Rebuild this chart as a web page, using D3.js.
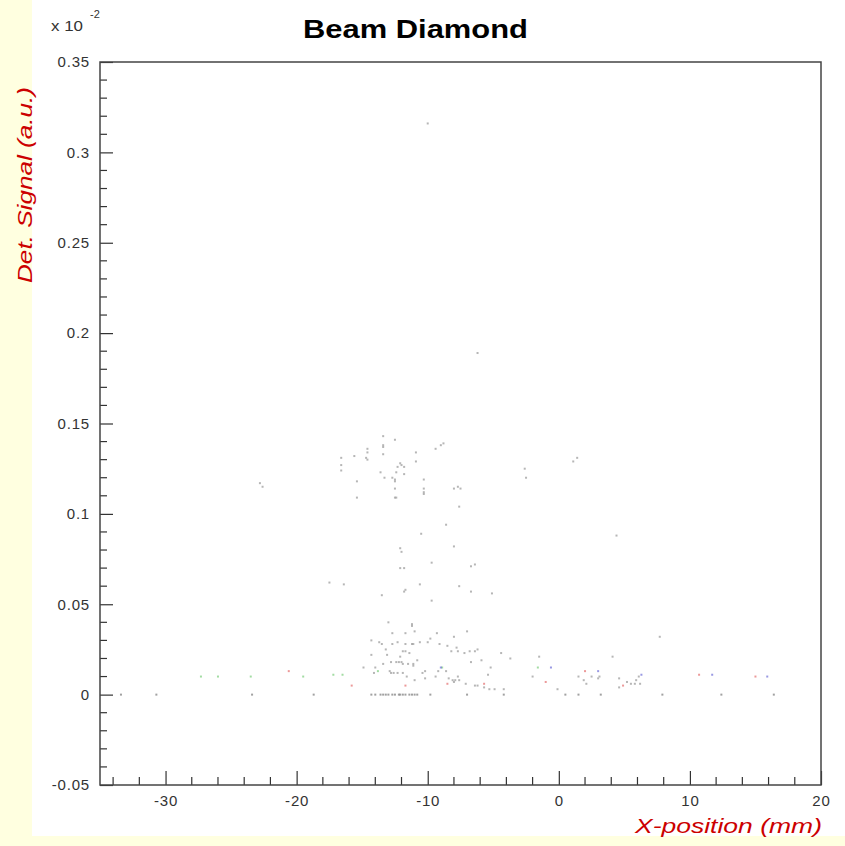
<!DOCTYPE html>
<html>
<head>
<meta charset="utf-8">
<script src="https://cdn.jsdelivr.net/npm/d3@7"></script>
<style>
  html, body { margin: 0; padding: 0; background: #ffffe0; }
  svg { display: block; }
</style>
</head>
<body>
<svg id="chart"></svg>
<script>
        // Axis ticks (values are x 10^-2 on the y axis)
        const xTicks = [-30, -20, -10, 0, 10, 20];
        const xTickLabels = ["-30", "-20", "-10", "0", "10", "20"];
        const yTicks = [-0.05, 0, 0.05, 0.1, 0.15, 0.2, 0.25, 0.3, 0.35];
        const yTickLabels = ["-0.05", "0", "0.05", "0.1", "0.15", "0.2", "0.25", "0.3", "0.35"];

        // Measured points [x mm, signal]
        const grayPoints = [
            [-10.0, 0.316], [-6.2, 0.189],
            [-13.4, 0.143], [-12.5, 0.141], [-13.4, 0.138], [-13.4, 0.137], [-14.6, 0.136], [-14.6, 0.134],
            [-15.6, 0.132], [-16.6, 0.131], [-14.7, 0.131], [-14.6, 0.130], [-13.4, 0.133], [-10.9, 0.134],
            [-9.4, 0.136], [-9.0, 0.138], [-8.8, 0.139], [-10.9, 0.129], [-12.1, 0.128], [-12.0, 0.127],
            [-11.8, 0.126], [-12.3, 0.126], [-16.6, 0.127], [-16.6, 0.124], [-13.6, 0.123], [-12.4, 0.123],
            [-11.8, 0.122], [-12.7, 0.120], [-13.3, 0.120], [-12.5, 0.119], [-12.5, 0.118], [-10.3, 0.119],
            [-15.4, 0.118], [-12.5, 0.114], [-10.3, 0.114], [-10.3, 0.112], [-10.3, 0.111], [-8.0, 0.114],
            [-7.7, 0.115], [-7.5, 0.114], [-15.4, 0.109], [-12.5, 0.109], [-12.4, 0.109], [-7.6, 0.104],
            [-8.6, 0.094], [-10.5, 0.089], [-22.8, 0.117], [-22.6, 0.115], [-2.6, 0.125], [-2.5, 0.120],
            [1.1, 0.129], [1.4, 0.131], [4.4, 0.088],
            [-12.1, 0.081], [-12.0, 0.079], [-8.0, 0.082], [-9.7, 0.073], [-12.1, 0.070], [-11.8, 0.070],
            [-6.7, 0.071], [-6.4, 0.072], [-16.4, 0.061], [-17.5, 0.062], [-10.6, 0.061], [-7.6, 0.060],
            [-11.7, 0.058], [-11.8, 0.057], [-6.7, 0.057], [-5.1, 0.056], [-13.5, 0.055], [-9.7, 0.052],
            [7.7, 0.032],
            [-13.0, 0.040], [-11.2, 0.039], [-11.2, 0.038], [-11.0, 0.035], [-12.7, 0.034], [-11.7, 0.034],
            [-9.3, 0.034], [-8.0, 0.032], [-7.0, 0.035], [-14.3, 0.030], [-13.7, 0.029], [-13.5, 0.028],
            [-12.7, 0.028], [-12.3, 0.029], [-11.7, 0.028], [-11.2, 0.028], [-11.1, 0.028], [-10.6, 0.029],
            [-10.0, 0.029], [-9.8, 0.031], [-9.1, 0.028], [-8.5, 0.027], [-7.8, 0.026], [-8.2, 0.024],
            [-7.7, 0.024], [-7.2, 0.023], [-6.8, 0.024], [-6.2, 0.025], [-6.4, 0.024], [-13.2, 0.025],
            [-11.9, 0.024], [-11.7, 0.024], [-11.4, 0.023], [-14.3, 0.022], [-13.1, 0.022], [-12.1, 0.021],
            [-10.8, 0.019], [-12.8, 0.018], [-12.4, 0.018], [-12.2, 0.018], [-12.0, 0.018], [-11.9, 0.017],
            [-11.5, 0.017], [-11.1, 0.017], [-11.1, 0.016], [-13.4, 0.017], [-14.0, 0.015], [-14.9, 0.015],
            [-10.2, 0.013], [-9.2, 0.013], [-8.6, 0.013], [-14.1, 0.012], [-12.9, 0.013], [-12.8, 0.012],
            [-12.6, 0.012], [-12.3, 0.012], [-11.9, 0.012], [-11.6, 0.010], [-10.4, 0.012], [-9.4, 0.010],
            [-10.2, 0.009], [-7.7, 0.010], [-8.4, 0.009], [-8.1, 0.008], [-7.9, 0.008], [-7.6, 0.008],
            [-8.0, 0.007], [-11.0, 0.008], [-7.1, 0.006], [-5.4, 0.011], [-6.4, 0.005], [-6.2, 0.005],
            [-5.7, 0.004], [-5.3, 0.003], [-4.9, 0.003], [-4.2, 0.003], [-4.4, 0.023], [-3.7, 0.020],
            [-5.2, 0.015], [-5.9, 0.019], [-6.7, 0.018], [-2.0, 0.010], [-1.5, 0.021], [4.1, 0.021],
            [-0.1, 0.003], [1.5, 0.010], [1.9, 0.008], [2.5, 0.010], [3.0, 0.009], [3.1, 0.010],
            [2.1, 0.006], [4.6, 0.009], [4.6, 0.004], [5.2, 0.007], [5.5, 0.006], [5.8, 0.006],
            [5.9, 0.008], [6.1, 0.010], [6.2, 0.006]
        ];
        // Points sitting on zero signal
        const zeroPoints = [
            [-33.4, 0], [-30.7, 0], [-23.4, 0], [-18.7, 0],
            [-14.3, 0], [-14.0, 0], [-13.6, 0], [-13.4, 0], [-13.2, 0], [-13.0, 0], [-12.7, 0], [-12.5, 0],
            [-12.2, 0], [-12.1, 0], [-11.9, 0], [-11.7, 0], [-11.4, 0], [-11.2, 0], [-11.0, 0], [-10.8, 0],
            [-9.8, 0], [-7.0, 0], [-4.2, 0], [0.5, 0], [1.5, 0], [3.2, 0], [7.9, 0], [12.4, 0], [16.4, 0]
        ];
        const greenPoints = [
            [-27.3, 0.010], [-26.0, 0.010], [-23.5, 0.010], [-19.5, 0.010], [-17.2, 0.011], [-16.5, 0.011],
            [-13.8, 0.013], [-8.9, 0.015], [-1.6, 0.015]
        ];
        const redPoints = [
            [-20.6, 0.013], [-15.8, 0.005], [-11.7, 0.005], [-8.5, 0.006], [-5.7, 0.006], [-1.0, 0.007],
            [2.0, 0.013], [4.9, 0.005], [10.7, 0.011], [15.0, 0.010]
        ];
        const bluePoints = [
            [-9.0, 0.015], [-0.6, 0.015], [3.0, 0.013], [6.3, 0.011], [11.7, 0.011], [15.9, 0.010]
        ];

        // Page and plot dimensions
        const width = 845, height = 846;
        const plotLeft = 100, plotRight = 821, plotTop = 62, plotBottom = 785;

        const svg = d3.select("#chart")
            .attr("width", width)
            .attr("height", height);

        // Yellow page with a white canvas
        svg.append("rect").attr("width", width).attr("height", height).attr("fill", "#ffffe0");
        svg.append("rect").attr("x", 32).attr("y", 0).attr("width", width - 32).attr("height", 836).attr("fill", "#ffffff");

        // Scales
        const x = d3.scaleLinear().domain([-35, 20]).range([plotLeft, plotRight]);
        const y = d3.scaleLinear().domain([-0.05, 0.35]).range([plotBottom, plotTop]);

        const font = "'Liberation Sans', Arial, Helvetica, sans-serif";

        // Points
        const series = [
            { pts: zeroPoints, color: "#8a8a8a", op: 0.8 },
            { pts: grayPoints, color: "#9e9e9e", op: 0.75 },
            { pts: greenPoints, color: "#66c466", op: 0.6 },
            { pts: redPoints, color: "#e05555", op: 0.6 },
            { pts: bluePoints, color: "#5555d0", op: 0.6 }
        ];
        const dots = svg.append("g").attr("class", "dots");
        series.forEach(s => {
            dots.selectAll(null)
                .data(s.pts)
                .enter()
                .append("rect")
                .attr("x", d => x(d[0]) - 1)
                .attr("y", d => y(d[1]) - 1)
                .attr("width", 2)
                .attr("height", 2)
                .attr("fill", s.color)
                .attr("opacity", s.op);
        });

        // Y axis (ticks inside the frame)
        const yAxis = svg.append("g")
            .attr("transform", `translate(${plotLeft},0)`)
            .call(d3.axisLeft(y)
                .tickValues(yTicks)
                .tickFormat((d, i) => yTickLabels[i])
                .tickSize(-13)
                .tickPadding(10));
        yAxis.select(".domain").remove();

        const yMinor = d3.range(-4, 35).map(k => k / 100).filter(v => Math.round(v * 100) % 5 !== 0);
        svg.append("g").selectAll("line")
            .data(yMinor)
            .enter()
            .append("line")
            .attr("x1", plotLeft).attr("x2", plotLeft + 7)
            .attr("y1", d => y(d)).attr("y2", d => y(d))
            .attr("stroke", "#333").attr("stroke-width", 1.2);

        // X axis (ticks inside the frame)
        const xAxis = svg.append("g")
            .attr("transform", `translate(0,${plotBottom})`)
            .call(d3.axisBottom(x)
                .tickValues(xTicks)
                .tickFormat((d, i) => xTickLabels[i])
                .tickSize(-14)
                .tickPadding(10));
        xAxis.select(".domain").remove();

        const xMinor = d3.range(-34, 20, 2).filter(v => v % 10 !== 0);
        svg.append("g").selectAll("line")
            .data(xMinor)
            .enter()
            .append("line")
            .attr("x1", d => x(d)).attr("x2", d => x(d))
            .attr("y1", plotBottom).attr("y2", plotBottom - 8)
            .attr("stroke", "#333").attr("stroke-width", 1.2);

        [yAxis, xAxis].forEach(g => {
            g.selectAll(".tick line").attr("stroke", "#333").attr("stroke-width", 1.2);
            g.selectAll(".tick text")
                .attr("fill", "#333")
                .style("font-family", font)
                .style("font-size", "15px")
                .style("letter-spacing", "0.8px");
        });

        // Frame
        svg.append("rect")
            .attr("x", plotLeft).attr("y", plotTop)
            .attr("width", plotRight - plotLeft).attr("height", plotBottom - plotTop)
            .attr("fill", "none")
            .attr("stroke", "#444")
            .attr("stroke-width", 1.5);

        // Exponent label
        svg.append("text")
            .attr("x", 51).attr("y", 31)
            .attr("textLength", 32)
            .attr("lengthAdjust", "spacingAndGlyphs")
            .attr("fill", "#333")
            .style("font-family", font).style("font-size", "15px")
            .text("x 10");
        svg.append("text")
            .attr("x", 90).attr("y", 18)
            .attr("fill", "#333")
            .style("font-family", font).style("font-size", "11px")
            .text("-2");

        // Title
        svg.append("text")
            .attr("x", 303).attr("y", 38)
            .attr("textLength", 225)
            .attr("lengthAdjust", "spacingAndGlyphs")
            .attr("fill", "#000")
            .style("font-family", font).style("font-size", "26px").style("font-weight", "bold")
            .text("Beam Diamond");

        // Axis titles
        svg.append("text")
            .attr("x", 635).attr("y", 833)
            .attr("textLength", 187)
            .attr("lengthAdjust", "spacingAndGlyphs")
            .attr("fill", "#cc0000")
            .style("font-family", font).style("font-size", "21px").style("font-style", "italic")
            .text("X-position (mm)");

        svg.append("text")
            .attr("transform", "translate(32,283) rotate(-90)")
            .attr("x", 0).attr("y", 0)
            .attr("textLength", 196)
            .attr("lengthAdjust", "spacingAndGlyphs")
            .attr("fill", "#cc0000")
            .style("font-family", font).style("font-size", "21px").style("font-style", "italic")
            .text("Det. Signal (a.u.)");
</script>
</body>
</html>
